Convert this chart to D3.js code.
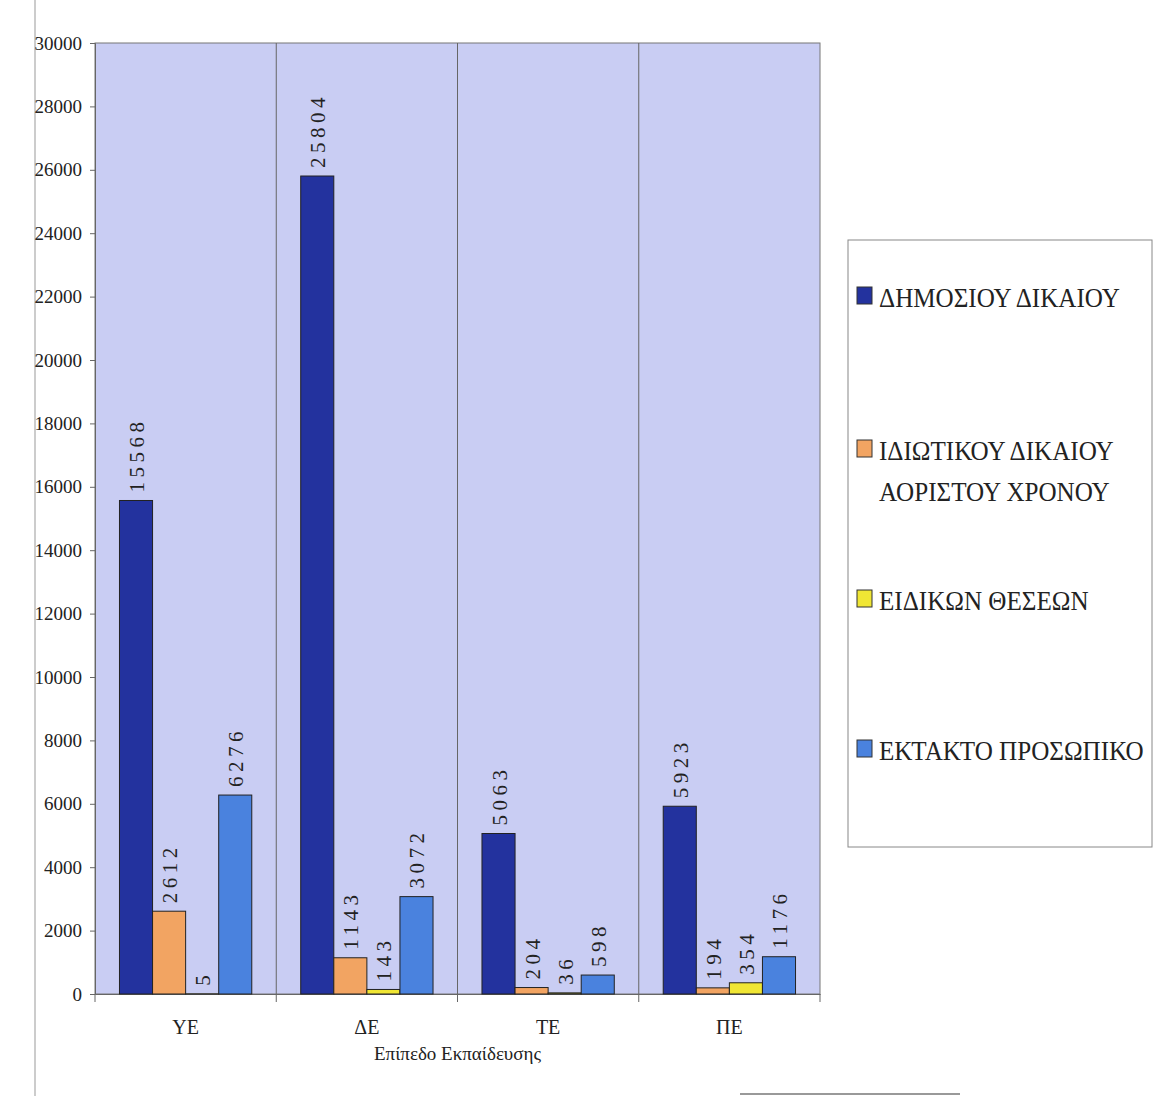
<!DOCTYPE html>
<html><head><meta charset="utf-8">
<script src="https://cdn.jsdelivr.net/npm/d3@7/dist/d3.min.js"></script>
<style>body{margin:0;background:#fff;}svg{display:block;}</style>
</head><body>
<svg id="c" width="1157" height="1096"></svg>
<script>
const categories = ["ΥΕ","ΔΕ","ΤΕ","ΠΕ"];
const seriesNames = ["ΔΗΜΟΣΙΟΥ ΔΙΚΑΙΟΥ","ΙΔΙΩΤΙΚΟΥ ΔΙΚΑΙΟΥ ΑΟΡΙΣΤΟΥ ΧΡΟΝΟΥ","ΕΙΔΙΚΩΝ ΘΕΣΕΩΝ","ΕΚΤΑΚΤΟ ΠΡΟΣΩΠΙΚΟ"];
const legendLines = [["ΔΗΜΟΣΙΟΥ ΔΙΚΑΙΟΥ"],["ΙΔΙΩΤΙΚΟΥ ΔΙΚΑΙΟΥ","ΑΟΡΙΣΤΟΥ ΧΡΟΝΟΥ"],["ΕΙΔΙΚΩΝ ΘΕΣΕΩΝ"],["ΕΚΤΑΚΤΟ ΠΡΟΣΩΠΙΚΟ"]];
const dimosiou = [15568, 25804, 5063, 5923];
const idiotikou = [2612, 1143, 204, 194];
const eidikon = [5, 143, 36, 354];
const ektakto = [6276, 3072, 598, 1176];
const yTicks = [0,2000,4000,6000,8000,10000,12000,14000,16000,18000,20000,22000,24000,26000,28000,30000];
const xTitle = "Επίπεδο Εκπαίδευσης";
const colors = ["#23329e","#f2a462","#f0e634","#4a82de"];

const series = [dimosiou, idiotikou, eidikon, ektakto];
const svg = d3.select("#c");
const L=95, R=820, T=43, B=994;
const font = "'Liberation Serif','Times New Roman',serif";

// page decorations
svg.append("line").attr("x1",35).attr("x2",35).attr("y1",0).attr("y2",1096).attr("stroke","#ccc").attr("stroke-width",2);
svg.append("line").attr("x1",740).attr("x2",960).attr("y1",1094).attr("y2",1094).attr("stroke","#999").attr("stroke-width",2);

const x = d3.scaleBand().domain(categories).range([L,R]).paddingInner(0).paddingOuter(0);
const xs = d3.scaleBand().domain(d3.range(4)).range([0,x.bandwidth()]).paddingOuter(0.74).paddingInner(0);
const y = d3.scaleLinear().domain([0,30000]).range([B,T]);

svg.append("rect").attr("x",L).attr("y",T).attr("width",R-L).attr("height",B-T).attr("fill","#c9cdf3").attr("stroke","#777").attr("stroke-width",1);

// category separators
categories.slice(1).forEach(c=>{
  svg.append("line").attr("x1",x(c)).attr("x2",x(c)).attr("y1",T).attr("y2",B+8).attr("stroke","#666").attr("stroke-width",1);
});

const gy = svg.append("g").attr("transform",`translate(${L},0)`)
  .call(d3.axisLeft(y).tickValues(yTicks).tickSize(5).tickPadding(8).tickFormat(d3.format("d")));
gy.select(".domain").attr("stroke","#666");
gy.selectAll(".tick line").attr("stroke","#666");
gy.selectAll("text").attr("font-family",font).attr("font-size",19).attr("fill","#222");

const gx = svg.append("g").attr("transform",`translate(0,${B})`)
  .call(d3.axisBottom(x).tickSize(0).tickPadding(26));
gx.select(".domain").attr("stroke","#666");
gx.selectAll("text").attr("font-family",font).attr("font-size",20).attr("fill","#222");
svg.append("line").attr("x1",L).attr("x2",L).attr("y1",B).attr("y2",B+8).attr("stroke","#666");
svg.append("line").attr("x1",R).attr("x2",R).attr("y1",B).attr("y2",B+8).attr("stroke","#666");

svg.append("text").attr("x",(L+R)/2).attr("y",1060).attr("text-anchor","middle")
  .attr("font-family",font).attr("font-size",19).attr("fill","#222").text(xTitle);

series.forEach((vals,si)=>{
  const g = svg.append("g");
  g.selectAll("rect").data(vals).join("rect")
    .attr("x",(d,i)=>x(categories[i])+xs(si))
    .attr("y",d=>y(d))
    .attr("width",xs.bandwidth())
    .attr("height",d=>B-y(d))
    .attr("fill",colors[si]).attr("stroke","#222").attr("stroke-width",1);
  g.selectAll("text").data(vals).join("text")
    .attr("transform",(d,i)=>`translate(${x(categories[i])+xs(si)+xs.bandwidth()/2+8},${y(d)-8}) rotate(-90)`)
    .attr("font-family",font).attr("font-size",21).attr("letter-spacing",4.5).attr("fill","#222")
    .text(d=>d);
});

// legend
const lg = svg.append("g");
lg.append("rect").attr("x",848).attr("y",240).attr("width",304).attr("height",607).attr("fill","#fff").attr("stroke","#888");
const rowY = [297,450,600,750];
legendLines.forEach((lines,i)=>{
  lg.append("rect").attr("x",857).attr("y",rowY[i]-10).attr("width",15).attr("height",17).attr("fill",colors[i]).attr("stroke","#333");
  lines.forEach((t,j)=>{
    lg.append("text").attr("transform",`translate(${879},${rowY[i]+10+j*41}) scale(0.93,1)`)
      .attr("font-family",font).attr("font-size",27).attr("fill","#222").text(t);
  });
});
</script>
</body></html>
